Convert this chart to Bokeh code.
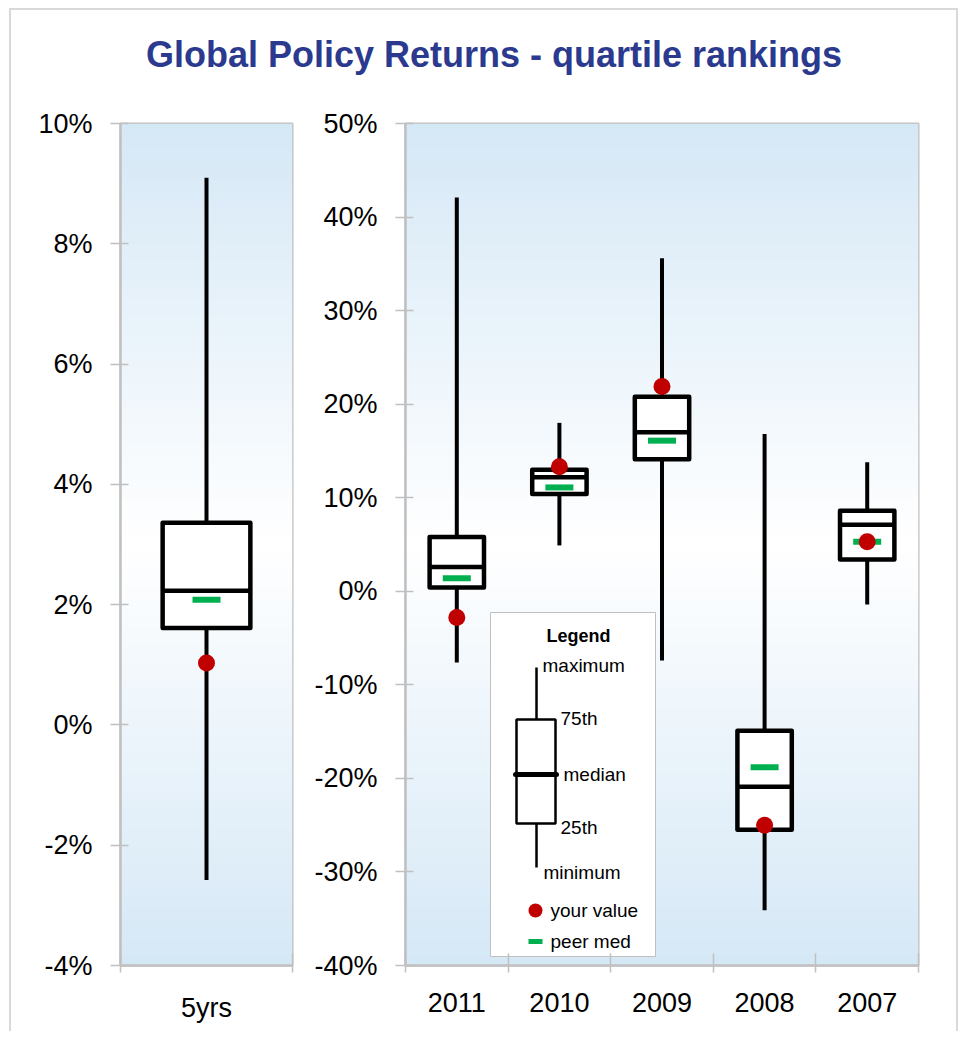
import numpy as np
from bokeh.plotting import figure
from bokeh.models import Range1d, FixedTicker, PrintfTickFormatter, Div, ColumnDataSource
from bokeh.layouts import column, row
from bokeh.core.properties import value
from bokeh.embed import file_html
from bokeh.resources import INLINE

# ---------------- data (percent) ----------------
left_categories = ["5yrs"]
left_max = [9.1]
left_q3 = [3.36]
left_median = [2.23]
left_q1 = [1.61]
left_min = [-2.58]
left_peer = [2.08]
left_you = [1.03]

categories = ["2011", "2010", "2009", "2008", "2007"]
yr_max = [42.1, 18.0, 35.6, 16.8, 13.8]
yr_q3 = [5.8, 13.0, 20.8, -14.9, 8.6]
yr_median = [2.6, 12.2, 17.0, -20.9, 7.1]
yr_q1 = [0.4, 10.4, 14.1, -25.5, 3.4]
yr_min = [-7.6, 4.9, -7.4, -34.1, -1.4]
yr_peer = [1.4, 11.1, 16.1, -18.8, 5.3]
yr_you = [-2.8, 13.3, 21.9, -25.0, 5.3]

left_ticks = [-4, -2, 0, 2, 4, 6, 8, 10]
right_ticks = [-40, -30, -20, -10, 0, 10, 20, 30, 40, 50]

# ---------------- styles ----------------
FONT = "Liberation Sans"
GRAY = "#c0c0c0"
RED = "#c00000"
GREEN = "#00b050"
TITLE_COLOR = "#2b3a8e"
EDGE_BLUE = (213, 232, 246)

FRAME_TOP = 33
FRAME_H = 842
BOTTOM = 66


def gradient(n=600):
    t = np.abs(np.linspace(-1.0, 1.0, n))
    img = np.empty((n, 1), dtype=np.uint32)
    v = img.view(dtype=np.uint8).reshape((n, 1, 4))
    for k in range(3):
        v[:, 0, k] = np.round(255 * (1 - t) + EDGE_BLUE[k] * t).astype(np.uint8)
    v[:, 0, 3] = 255
    return img


def make_fig(width, mbl, mbr, xr, yr, yticks, cats):
    p = figure(width=width, height=FRAME_TOP + FRAME_H + BOTTOM,
               x_range=Range1d(*xr), y_range=Range1d(*yr),
               output_backend="svg", toolbar_location=None, tools="",
               min_border_left=mbl, min_border_right=mbr,
               min_border_top=FRAME_TOP, min_border_bottom=BOTTOM)
    p.xgrid.visible = False
    p.ygrid.visible = False
    p.background_fill_color = "white"
    p.border_fill_color = "white"
    p.outline_line_color = GRAY
    p.outline_line_width = 2
    p.image_rgba(image=[gradient()], x=xr[0], y=yr[0],
                 dw=xr[1] - xr[0], dh=yr[1] - yr[0])

    # y axis
    ya = p.yaxis[0]
    ya.ticker = FixedTicker(ticks=yticks)
    ya.formatter = PrintfTickFormatter(format="%d%%")
    ya.axis_line_color = GRAY
    ya.axis_line_width = 2.5
    ya.major_tick_line_color = GRAY
    ya.major_tick_line_width = 1.5
    ya.major_tick_out = 10
    ya.major_tick_in = 8
    ya.minor_tick_line_color = None
    ya.major_label_standoff = 18
    ya.major_label_text_font = FONT
    ya.major_label_text_font_size = "27px"
    ya.major_label_text_color = "black"

    # x axis: labels at centres, ticks at category boundaries
    n = len(cats)
    xa = p.xaxis[0]
    centres = [i + 0.5 for i in range(n)]
    xa.ticker = FixedTicker(ticks=centres, minor_ticks=list(range(n + 1)))
    xa.major_label_overrides = {c: cat for c, cat in zip(centres, cats)}
    xa.axis_line_color = GRAY
    xa.axis_line_width = 2.5
    xa.major_tick_line_color = None
    xa.major_tick_in = 0
    xa.major_tick_out = 0
    xa.minor_tick_line_color = GRAY
    xa.minor_tick_line_width = 1.5
    xa.minor_tick_in = 12
    xa.minor_tick_out = 7
    xa.major_label_standoff = 20
    xa.major_label_text_font = FONT
    xa.major_label_text_font_size = "27px"
    xa.major_label_text_color = "black"
    return p


def draw_boxes(p, cats, mx, q3, med, q1, mn, peer, you, box_w):
    pos = [i + 0.5 for i in range(len(cats))]
    src = ColumnDataSource(dict(
        x=pos, left=[x - box_w / 2 for x in pos], right=[x + box_w / 2 for x in pos],
        mx=mx, q3=q3, med=med, q1=q1, mn=mn, peer=peer, you=you))
    p.segment(x0="x", y0="mn", x1="x", y1="mx", source=src,
              line_color="black", line_width=4)
    p.quad(left="left", right="right", top="q3", bottom="q1", source=src,
           fill_color="white", line_color="black", line_width=4.5,
           line_join="round")
    p.segment(x0="left", y0="med", x1="right", y1="med", source=src,
              line_color="black", line_width=4.5)
    p.rect(x="x", y="peer", width=28, height=6, width_units="screen",
           height_units="screen", source=src, fill_color=GREEN, line_color=None)
    p.scatter(x="x", y="you", size=17, source=src, marker="circle",
              fill_color=RED, line_color=None)


# ---------------- left panel ----------------
p1 = make_fig(291, 109, 10, (0, 1), (-4, 10), left_ticks, left_categories)
draw_boxes(p1, left_categories, left_max, left_q3, left_median, left_q1,
           left_min, left_peer, left_you, 0.51)

# ---------------- right panel ----------------
RX0, RW = 405, 513        # frame left / width in page pixels (for the inset legend)
RY0 = 123
p2 = make_fig(654, 103, 38, (0, 5), (-40, 50), right_ticks, categories)
draw_boxes(p2, categories, yr_max, yr_q3, yr_median, yr_q1, yr_min,
           yr_peer, yr_you, 0.53)


def rx(px):
    return (px - RX0) / RW * 5.0


def ry(py):
    return 50.0 - (py - RY0) / FRAME_H * 90.0


# inset legend
p2.quad(left=[rx(490)], right=[rx(655)], top=[ry(612)], bottom=[ry(956)],
        fill_color="white", line_color=GRAY, line_width=1)
p2.text(x=[rx(578)], y=[ry(635)], text=["Legend"], text_font=value(FONT),
        text_font_size="18px", text_font_style="bold", text_align="center",
        text_baseline="middle", text_color="black")
p2.segment(x0=[rx(536)], y0=[ry(667)], x1=[rx(536)], y1=[ry(867)],
           line_color="black", line_width=2.5)
p2.quad(left=[rx(516)], right=[rx(555)], top=[ry(719)], bottom=[ry(823)],
        fill_color="white", line_color="black", line_width=2.5)
p2.segment(x0=[rx(515)], y0=[ry(774)], x1=[rx(556)], y1=[ry(774)],
           line_color="black", line_width=5, line_cap="round")
leg_labels = ["maximum", "75th", "median", "25th", "minimum", "your value", "peer med"]
leg_px = [542, 560, 563, 560, 543, 550, 550]
leg_py = [665, 718, 774, 827, 872, 910, 941]
p2.text(x=[rx(v) for v in leg_px], y=[ry(v) for v in leg_py], text=leg_labels,
        text_font=value(FONT), text_font_size="19px", text_align="left",
        text_baseline="middle", text_color="black")
p2.scatter(x=[rx(535)], y=[ry(910)], size=14, marker="circle",
           fill_color=RED, line_color=None)
p2.rect(x=[rx(535)], y=[ry(941)], width=14, height=5, width_units="screen",
        height_units="screen", fill_color=GREEN, line_color=None)

title = Div(
    text=('<div style="box-sizing:border-box;width:945px;padding-top:27px;'
          'padding-left:21px;text-align:center;'
          'font-family:\'Liberation Sans\';font-weight:bold;font-size:36px;'
          'line-height:36px;color:%s;white-space:nowrap;">'
          'Global Policy Returns - quartile rankings</div>') % TITLE_COLOR,
    width=945, height=80, margin=0)

layout = column(title, row(p1, p2),
                styles={"border": "2px solid #d9d9d9", "border-bottom": "none",
                        "background": "white", "margin": "8px 0 0 9px"})

open("out.html", "w").write(file_html(layout, INLINE))
